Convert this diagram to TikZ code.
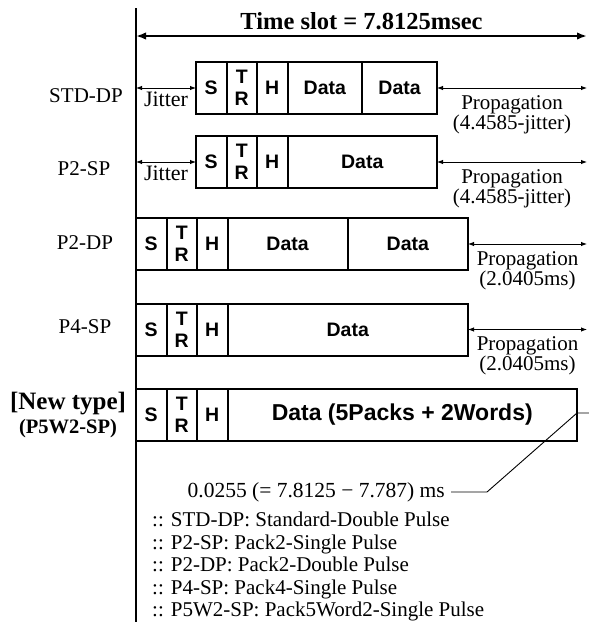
\documentclass[tikz,border=0pt]{standalone}
\usepackage{fontspec}
\setmainfont{Liberation Serif}
\newfontfamily\cellfont{Liberation Sans}
\usetikzlibrary{arrows.meta, positioning}

\begin{document}
\begin{tikzpicture}[
  x=1pt, y=-1pt,
  cell/.style = {draw, line width=2pt, minimum height=52pt, minimum width=30.5pt, inner sep=0pt, outer sep=0pt, anchor=west, align=center, font=\cellfont\bfseries\fontsize{19.5}{22}\selectfont},
  rowname/.style = {font=\fontsize{21}{23}\selectfont},
  note/.style = {font=\fontsize{21}{20}\selectfont, align=center, inner sep=1pt},
  jitter/.style = {note, font=\fontsize{22}{20}\selectfont},
  axisline/.style = {line width=1.3pt},
  slotarrow/.style = {line width=2.2pt, {Latex[length=10pt, width=7.5pt]}-{Latex[length=10pt, width=7.5pt]}},
  span/.style = {line width=0.9pt, {Latex[length=6pt, width=4.5pt]}-{Latex[length=6pt, width=4.5pt]}},
  node distance=0pt
]
  \useasboundingbox (0,0) rectangle (589,622);

  % ======================================================
  % Time axis and slot length
  % ======================================================
  \coordinate (axistop) at (136,8);
  \coordinate (axisbot) at (136,622);
  \coordinate (slotend) at (587,36);
  \draw[axisline] (axistop) -- (axisbot);
  \draw[slotarrow] (axistop |- slotend) -- node[above=2pt, font=\bfseries\fontsize{24.5}{26}\selectfont] (title) {Time slot = 7.8125msec} (slotend);

  % ======================================================
  % STD-DP
  % ======================================================
  \node[rowname] (stdname) at (86,96) {STD-DP};
  \node[cell] (stdS) at (196,88) {S};
  \node[cell, right=of stdS] (stdTR) {T\\R};
  \node[cell, right=of stdTR] (stdH) {H};
  \node[cell, right=of stdH, minimum width=74.75pt] (stdD1) {Data};
  \node[cell, right=of stdD1, minimum width=74.75pt] (stdD2) {Data};
  \draw[span] (stdS.west -| axistop) -- node[jitter, below=2pt] {Jitter} (stdS.west);
  \draw[span] (stdD2.east) -- node[note, below=6pt] {Propagation\\(4.4585-jitter)} (stdD2.east -| slotend);

  % ======================================================
  % P2-SP
  % ======================================================
  \node[rowname] (p2sname) at (84,169) {P2-SP};
  \node[cell] (p2sS) at (196,162) {S};
  \node[cell, right=of p2sS] (p2sTR) {T\\R};
  \node[cell, right=of p2sTR] (p2sH) {H};
  \node[cell, right=of p2sH, minimum width=149.5pt] (p2sD) {Data};
  \draw[span] (p2sS.west -| axistop) -- node[jitter, below=2pt] {Jitter} (p2sS.west);
  \draw[span] (p2sD.east) -- node[note, below=6pt] {Propagation\\(4.4585-jitter)} (p2sD.east -| slotend);

  % ======================================================
  % P2-DP
  % ======================================================
  \node[rowname] (p2dname) at (85,243) {P2-DP};
  \node[cell] (p2dS) at (136,244) {S};
  \node[cell, right=of p2dS] (p2dTR) {T\\R};
  \node[cell, right=of p2dTR] (p2dH) {H};
  \node[cell, right=of p2dH, minimum width=120.25pt] (p2dD1) {Data};
  \node[cell, right=of p2dD1, minimum width=120.25pt] (p2dD2) {Data};
  \draw[span] (p2dD2.east) -- node[note, below=6pt] {Propagation\\(2.0405ms)} (p2dD2.east -| slotend);

  % ======================================================
  % P4-SP
  % ======================================================
  \node[rowname] (p4sname) at (85,327) {P4-SP};
  \node[cell] (p4sS) at (136,329.5) {S};
  \node[cell, right=of p4sS] (p4sTR) {T\\R};
  \node[cell, right=of p4sTR] (p4sH) {H};
  \node[cell, right=of p4sH, minimum width=240.5pt] (p4sD) {Data};
  \draw[span] (p4sD.east) -- node[note, below=6pt] {Propagation\\(2.0405ms)} (p4sD.east -| slotend);

  % ======================================================
  % New type P5W2-SP
  % ======================================================
  \node[rowname, font=\bfseries\fontsize{25}{26}\selectfont] (newname) at (68,404) {[New type]};
  \node[rowname, font=\bfseries\fontsize{20.5}{22}\selectfont, below=-3pt of newname] (p5wname) {(P5W2-SP)};
  \node[cell] (p5wS) at (136,414.5) {S};
  \node[cell, right=of p5wS] (p5wTR) {T\\R};
  \node[cell, right=of p5wTR] (p5wH) {H};
  \node[cell, right=of p5wH, minimum width=349.5pt, font=\cellfont\bfseries\fontsize{23}{24}\selectfont] (p5wD) {Data (5Packs + 2Words)};

  % gap to the end of the slot
  \node[note, anchor=east, font=\fontsize{21.5}{20}\selectfont] (gapnote) at (446,492) {0.0255 (= 7.8125 − 7.787) ms};
  \coordinate (gapknee) at (487,492);
  \coordinate (gaptip) at (589,413);
  \draw[line width=0.9pt] ([xshift=5pt]gapnote.east) -- (gapknee) -- (gaptip -| p5wD.east) -- (gaptip);

  % legend
  \node[note, align=left, anchor=north west, font=\fontsize{21}{22.5}\selectfont] (legend) at (151,511) {%
    :: STD-DP: Standard-Double Pulse\\
    :: P2-SP: Pack2-Single Pulse\\
    :: P2-DP: Pack2-Double Pulse\\
    :: P4-SP: Pack4-Single Pulse\\
    :: P5W2-SP: Pack5Word2-Single Pulse};

\end{tikzpicture}
\end{document}
